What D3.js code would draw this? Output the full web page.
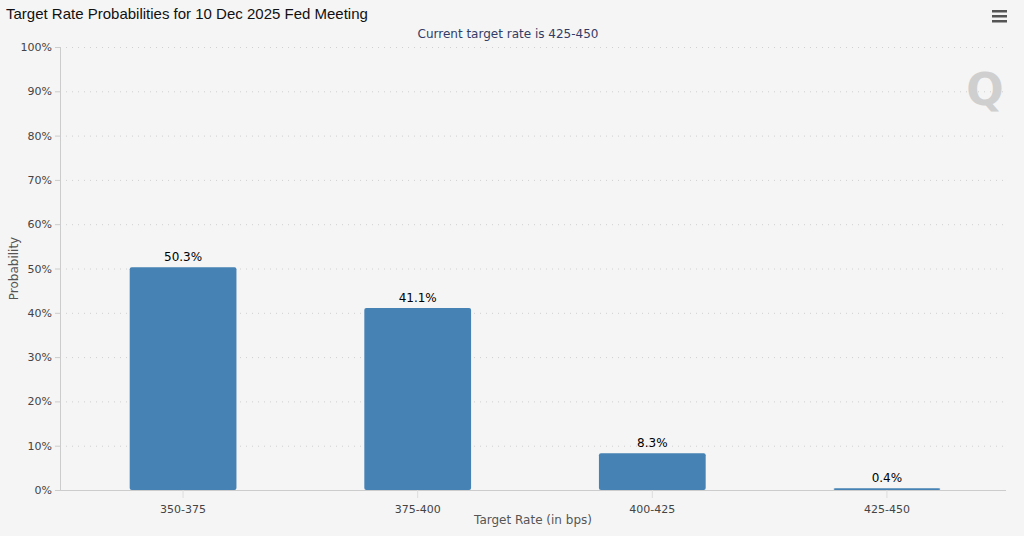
<!DOCTYPE html>
<html><head><meta charset="utf-8">
<script src="https://cdn.jsdelivr.net/npm/d3@7"></script>
<style>body{margin:0;background:#f5f5f5;}svg{display:block;font-family:"DejaVu Sans",sans-serif;}</style>
</head><body>
<script>
var categories = ['350-375', '375-400', '400-425', '425-450'];
var probabilities = [50.3, 41.1, 8.3, 0.4];
var yTicks = [0, 10, 20, 30, 40, 50, 60, 70, 80, 90, 100];

var W = 1024, H = 536
, m = {left: 60, right: 18, top: 47, bottom: 46}
, svg = d3.select('body').append('svg').attr('width', W).attr('height', H);

svg.append('rect').attr('width', W).attr('height', H).attr('fill', '#f5f5f5');

var x = d3.scaleBand().domain(categories).range([m.left + 4, W - m.right]).paddingInner(0.545).paddingOuter(0.28);
var y = d3.scaleLinear().domain([0, 100]).range([H - m.bottom, m.top]);

// grid
svg.append('g').selectAll('line').data(yTicks.slice(1)).enter().append('line')
	.attr('x1', m.left).attr('x2', W - m.right)
	.attr('y1', function(d){ return y(d) + 0.5; }).attr('y2', function(d){ return y(d) + 0.5; })
	.attr('stroke', '#d0d0d0').attr('stroke-dasharray', '1,5');

// bars
svg.append('g').selectAll('rect').data(probabilities).enter().append('rect')
	.attr('x', function(d, i){ return x(categories[i]); })
	.attr('width', x.bandwidth())
	.attr('y', function(d){ return y(d); })
	.attr('height', function(d){ return y(0) - y(d); })
	.attr('rx', 2)
	.attr('fill', '#4682b4');

svg.append('g').selectAll('text').data(probabilities).enter().append('text')
	.attr('x', function(d, i){ return x(categories[i]) + x.bandwidth() / 2; })
	.attr('y', function(d){ return y(d) - 6; })
	.attr('text-anchor', 'middle').attr('font-size', 12).attr('fill', '#000')
	.text(function(d){ return d.toFixed(1) + '%'; });

// axes
var ya = svg.append('g').attr('transform', 'translate(' + m.left + ',0)')
	.call(d3.axisLeft(y).tickValues(yTicks).tickSize(5).tickFormat(function(d){ return d + '%'; }));
ya.select('.domain').attr('stroke', '#ccc');
ya.selectAll('.tick line').attr('stroke', '#ccc');
ya.selectAll('text').attr('font-size', 11).attr('fill', '#444').attr('font-family', '"DejaVu Sans",sans-serif');

var xa = svg.append('g').attr('transform', 'translate(0,' + y(0) + ')')
	.call(d3.axisBottom(x).tickSize(8).tickSizeOuter(0));
xa.select('.domain').attr('stroke', '#ccc').attr('d', 'M' + m.left + ',0.5H' + (W - m.right));
xa.selectAll('.tick line').attr('stroke', '#ddd');
xa.selectAll('text').attr('font-size', 11).attr('fill', '#444').attr('dy', '1.1em').attr('font-family', '"DejaVu Sans",sans-serif');

// titles
svg.append('text').attr('x', 6).attr('y', 19).attr('font-size', 15).attr('fill', '#111')
	.attr('font-family', '"Liberation Sans",Arial,sans-serif').text('Target Rate Probabilities for 10 Dec 2025 Fed Meeting');
svg.append('text').attr('x', (m.left + W - m.right) / 2 - 25).attr('y', 38).attr('text-anchor', 'middle')
	.attr('font-size', 12).attr('fill', '#333c66').text('Current target rate is 425-450');
svg.append('text').attr('x', (m.left + W - m.right) / 2).attr('y', 524).attr('text-anchor', 'middle')
	.attr('font-size', 12).attr('fill', '#555').text('Target Rate (in bps)');
svg.append('text').attr('transform', 'translate(18,' + (y(50)) + ') rotate(-90)').attr('text-anchor', 'middle')
	.attr('font-size', 12).attr('fill', '#555').text('Probability');

// menu icon
svg.append('g').selectAll('rect').data([0, 1, 2]).enter().append('rect')
	.attr('x', 992).attr('y', function(d){ return 10 + d * 5; }).attr('width', 15).attr('height', 2.5).attr('fill', '#555');

// watermark
svg.append('text').attr('x', 985).attr('y', 105).attr('text-anchor', 'middle').attr('font-size', 44)
	.attr('font-weight', 'bold').attr('fill', '#cfcfcf').text('Q');
</script>
</body></html>
